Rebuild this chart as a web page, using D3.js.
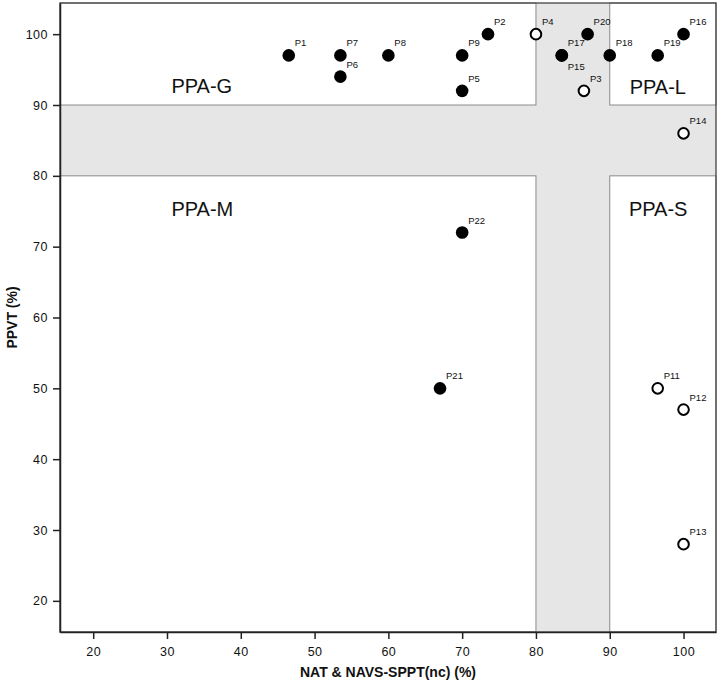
<!DOCTYPE html>
<html><head><meta charset="utf-8">
<script src="https://cdn.jsdelivr.net/npm/d3@7"></script>
<style>body{margin:0;background:#fff;} text{font-family:"Liberation Sans",Arial,sans-serif;}</style>
</head><body>
<svg id="chart" width="720" height="685"></svg>
<script>
const labels = ["P1","P7","P6","P8","P9","P5","P2","P4","P20","P17","P15","P18","P19","P16","P3","P14","P22","P21","P11","P12","P13"];
const xValues = [46.5,53.5,53.5,60,70,70,73.5,80,87,83.5,83.5,90,96.5,100,86.5,100,70,67,96.5,100,100];
const yValues = [97,97,94,97,97,92,100,100,100,97,97,97,97,100,92,86,72,50,50,47,28];
const filled = [1,1,1,1,1,1,1,0,1,1,1,1,1,1,0,0,1,1,0,0,0];
const labelBelow = ["P15"];
const xTicks = [20,30,40,50,60,70,80,90,100];
const yTicks = [20,30,40,50,60,70,80,90,100];
const regions = [
  {name:"PPA-G", x0:15.5, x1:80, y0:90, y1:104.4, lx:30.6, ly:91.7},
  {name:"PPA-L", x0:90, x1:104.4, y0:90, y1:104.4, lx:92.7, ly:91.6},
  {name:"PPA-M", x0:15.5, x1:80, y0:15.6, y1:80, lx:30.6, ly:74.3},
  {name:"PPA-S", x0:90, x1:104.4, y0:15.6, y1:80, lx:92.6, ly:74.4}
];

const svg = d3.select("#chart");
const m = {l:60, t:3, r:716, b:632};
const x = d3.scaleLinear().domain([15.5,104.4]).range([m.l,m.r]);
const y = d3.scaleLinear().domain([15.6,104.4]).range([m.b,m.t]);

svg.append("rect").attr("x",m.l).attr("y",m.t).attr("width",m.r-m.l).attr("height",m.b-m.t).attr("fill","#e6e6e6");
svg.selectAll("rect.q").data(regions).join("rect").attr("class","q")
  .attr("x",d=>x(d.x0)).attr("y",d=>y(d.y1)).attr("width",d=>x(d.x1)-x(d.x0)).attr("height",d=>y(d.y0)-y(d.y1))
  .attr("fill","#fff").attr("stroke","#8a8a8a").attr("stroke-width",1);
svg.selectAll("text.rl").data(regions).join("text").attr("class","rl")
  .attr("x",d=>x(d.lx)).attr("y",d=>y(d.ly)).attr("font-size",20).attr("fill","#111").text(d=>d.name);

svg.append("rect").attr("x",m.l).attr("y",m.t).attr("width",m.r-m.l).attr("height",m.b-m.t)
  .attr("fill","none").attr("stroke","#444").attr("stroke-width",1.3);

const xa = svg.append("g").attr("transform",`translate(0,${m.b})`)
  .call(d3.axisBottom(x).tickValues(xTicks).tickSize(7).tickPadding(8).tickSizeOuter(0));
const ya = svg.append("g").attr("transform",`translate(${m.l},0)`)
  .call(d3.axisLeft(y).tickValues(yTicks).tickSize(7).tickPadding(5).tickSizeOuter(0));
[xa,ya].forEach(a=>{
  a.select(".domain").attr("stroke","#222").attr("stroke-width",1.5);
  a.selectAll(".tick line").attr("stroke","#222").attr("stroke-width",1.5);
  a.selectAll(".tick text").attr("font-size",12.5).attr("fill","#111").attr("font-family","'Liberation Sans',Arial,sans-serif").attr("letter-spacing","0.5px");
});

svg.append("text").attr("x",(m.l+m.r)/2).attr("y",677).attr("text-anchor","middle")
  .attr("font-size",14).attr("font-weight","bold").attr("fill","#111").text("NAT & NAVS-SPPT(nc) (%)");
svg.append("text").attr("transform",`translate(17,${(m.t+m.b)/2}) rotate(-90)`).attr("text-anchor","middle")
  .attr("font-size",14).attr("font-weight","bold").attr("fill","#111").text("PPVT (%)");

const pts = labels.map((l,i)=>({l, x:xValues[i], y:yValues[i], f:filled[i]}));
svg.selectAll("circle.p").data(pts).join("circle").attr("class","p")
  .attr("cx",d=>x(d.x)).attr("cy",d=>y(d.y)).attr("r",d=>d.f?6.3:5.3)
  .attr("fill",d=>d.f?"#000":"#fff").attr("stroke","#000").attr("stroke-width",d=>d.f?0:2);
svg.selectAll("text.pl").data(pts).join("text").attr("class","pl")
  .attr("x",d=>x(d.x)+6).attr("y",d=>y(d.y)+(labelBelow.includes(d.l)?15:-9))
  .attr("font-size",9.5).attr("fill","#111").text(d=>d.l);
</script>
</body></html>
